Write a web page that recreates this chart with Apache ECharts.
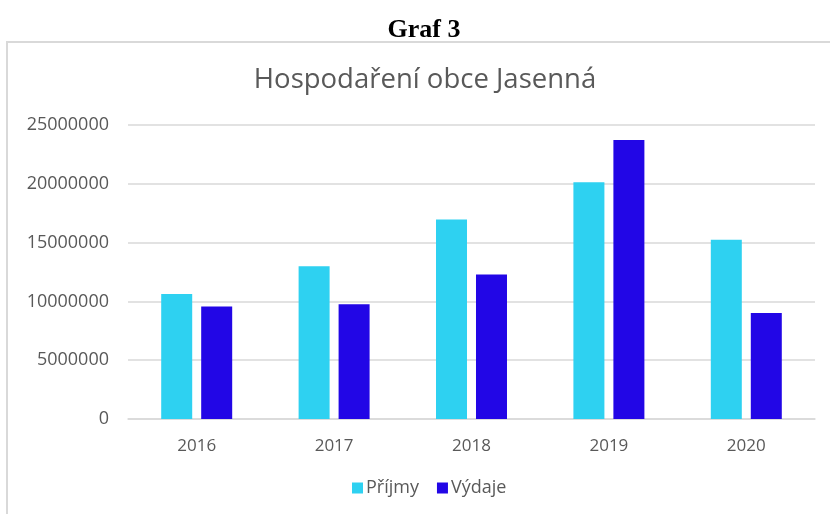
<!DOCTYPE html>
<html>
<head>
<meta charset="utf-8">
<script src="https://cdn.jsdelivr.net/npm/echarts@6/dist/echarts.min.js"></script>
<style>
  html, body { margin: 0; padding: 0; background: #fff; }
  #chart { width: 830px; height: 514px; }
</style>
</head>
<body>
<div id="chart"></div>
<script>
const years = ['2016', '2017', '2018', '2019', '2020']
const prijmy = [10630000, 12980000, 16960000, 20130000, 15250000]
const vydaje = [9560000, 9750000, 12280000, 23720000, 9010000]
const yTicks = [0, 5000000, 10000000, 15000000, 20000000, 25000000]

const labelColor = '#595959'
const font = 'Open Sans'

const chart = echarts.init(document.getElementById('chart'))
chart.setOption({
  animation: false,
  graphic: [{
    type: 'rect',
    shape: { x: 7, y: 42, width: 840, height: 500 },
    style: { fill: 'none', stroke: '#d9d9d9', lineWidth: 2 },
    silent: true
  }, {
    type: 'text',
    x: 424, y: 30,
    style: {
      text: 'Graf 3', fill: '#000', align: 'center', verticalAlign: 'middle',
      font: 'bold 26px "Liberation Serif"'
    }
  }, {
    type: 'text',
    x: 425, y: 80,
    style: {
      text: 'Hospodaření obce Jasenná', fill: labelColor, align: 'center', verticalAlign: 'middle',
      font: '27.5px "Open Sans"'
    }
  }],
  legend: {
    bottom: 12,
    left: 347,
    itemWidth: 11,
    itemHeight: 11,
    itemGap: 18,
    icon: 'rect',
    textStyle: { fontFamily: font, fontSize: 18, color: labelColor, padding: [0, 0, 0, -2] },
    data: ['Příjmy', 'Výdaje']
  },
  grid: { left: 128, right: 15, top: 125, bottom: 95 },
  xAxis: {
    type: 'category',
    data: years,
    axisLine: { lineStyle: { color: '#d9d9d9', width: 1.5 } },
    axisTick: { show: false },
    axisLabel: { fontFamily: font, fontSize: 17, color: labelColor, margin: 19 }
  },
  yAxis: {
    type: 'value',
    min: yTicks[0],
    max: yTicks[yTicks.length - 1],
    interval: 5000000,
    axisLine: { show: false },
    axisTick: { show: false },
    splitLine: { lineStyle: { color: '#d9d9d9', width: 1.5 } },
    axisLabel: { fontFamily: font, fontSize: 18, color: labelColor, margin: 19, formatter: v => String(v) }
  },
  series: [{
    name: 'Příjmy',
    type: 'bar',
    data: prijmy,
    barWidth: 31,
    barGap: '29%',
    itemStyle: { color: '#2ED1F1' }
  }, {
    name: 'Výdaje',
    type: 'bar',
    data: vydaje,
    barWidth: 31,
    itemStyle: { color: '#2206E6' }
  }]
})
</script>
</body>
</html>
